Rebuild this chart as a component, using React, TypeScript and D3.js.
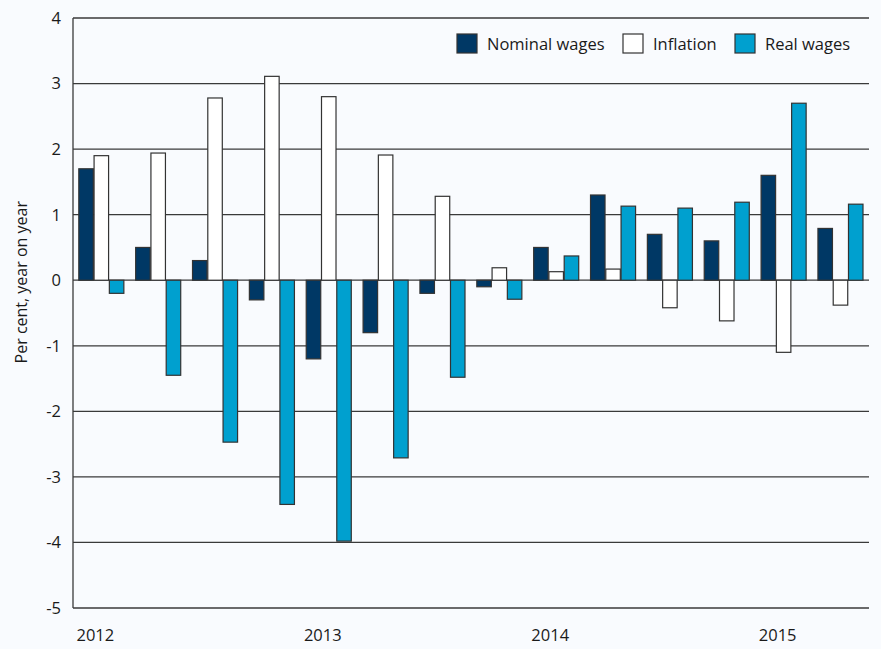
import React from 'react';
import * as d3 from 'd3';

// quarterly observations, 2012 Q1 - 2015 Q2
const quarters = [
  '2012Q1', '2012Q2', '2012Q3', '2012Q4',
  '2013Q1', '2013Q2', '2013Q3', '2013Q4',
  '2014Q1', '2014Q2', '2014Q3', '2014Q4',
  '2015Q1', '2015Q2',
];
const nominalWages = [1.7, 0.5, 0.3, -0.3, -1.2, -0.8, -0.2, -0.1, 0.5, 1.3, 0.7, 0.6, 1.6, 0.79];
const inflation = [1.9, 1.94, 2.78, 3.11, 2.8, 1.91, 1.28, 0.19, 0.13, 0.17, -0.42, -0.62, -1.1, -0.38];
const realWages = [-0.2, -1.45, -2.47, -3.42, -3.98, -2.71, -1.48, -0.29, 0.37, 1.13, 1.1, 1.19, 2.7, 1.16];

const seriesNames = ['Nominal wages', 'Inflation', 'Real wages'];
const seriesColors = ['#003865', '#ffffff', '#00a0cf'];
const yTicks = [4, 3, 2, 1, 0, -1, -2, -3, -4, -5];
const yearLabels = [
  { year: '2012', quarter: '2012Q1' },
  { year: '2013', quarter: '2013Q1' },
  { year: '2014', quarter: '2014Q1' },
  { year: '2015', quarter: '2015Q1' },
];

const W = 881;
const H = 649;
const margin = { top: 18, right: 12, bottom: 41, left: 73 };
const FONT = '"Open Sans", "Noto Sans", sans-serif';
const INK = '#1a1a1a';

const App: React.FC = () => {
  const x0 = d3
    .scaleBand<string>()
    .domain(quarters)
    .range([margin.left, W - margin.right]);

  const x1 = d3
    .scaleBand<string>()
    .domain(seriesNames)
    .range([5.8, x0.bandwidth() - 6])
    .paddingInner(0.05);

  const y = d3
    .scaleLinear()
    .domain([-5, 4])
    .range([H - margin.bottom, margin.top]);

  const series = [nominalWages, inflation, realWages];

  return (
    <svg
      width={W}
      height={H}
      style={{ position: 'absolute', left: 0, top: 0, fontFamily: FONT }}
    >
      <rect x={0} y={0} width={W} height={H} fill="#f9fbfe" />

      {/* gridlines */}
      {yTicks.map(t => (
        <line
          key={t}
          x1={margin.left}
          x2={W - margin.right}
          y1={y(t)}
          y2={y(t)}
          stroke="#3a3a3a"
          strokeWidth={1.3}
        />
      ))}

      {/* bars */}
      {quarters.map((q, i) => (
        <g key={q} transform={`translate(${x0(q)},0)`}>
          {series.map((vals, s) => {
            const v = vals[i];
            return (
              <rect
                key={s}
                x={x1(seriesNames[s])}
                y={y(Math.max(0, v))}
                width={x1.bandwidth()}
                height={Math.abs(y(v) - y(0))}
                fill={seriesColors[s]}
                stroke="#333"
                strokeWidth={1.2}
              />
            );
          })}
        </g>
      ))}

      {/* y axis line */}
      <line
        x1={margin.left}
        x2={margin.left}
        y1={y(4)}
        y2={y(-5)}
        stroke="#3a3a3a"
        strokeWidth={1.3}
      />

      {/* y tick labels */}
      {yTicks.map(t => (
        <text
          key={t}
          x={61}
          y={y(t)}
          dy="0.36em"
          textAnchor="end"
          fontSize={16.5}
          fill={INK}
        >
          {t}
        </text>
      ))}

      {/* year labels */}
      {yearLabels.map(d => (
        <text
          key={d.year}
          x={(x0(d.quarter) as number) + 3.5}
          y={641}
          fontSize={16.5}
          fill={INK}
        >
          {d.year}
        </text>
      ))}

      {/* y axis title */}
      <text
        transform={`translate(27, ${y(0) + 2}) rotate(-90)`}
        textAnchor="middle"
        fontSize={16}
        fill={INK}
      >
        Per cent, year on year
      </text>

      {/* legend */}
      <g transform="translate(457, 34)">
        {[0, 166, 278].map((dx, s) => (
          <g key={s} transform={`translate(${dx},0)`}>
            <rect
              x={0}
              y={0}
              width={20}
              height={19}
              fill={seriesColors[s]}
              stroke="#333"
              strokeWidth={1.2}
            />
            <text x={30} y={10} dy="0.36em" fontSize={16.5} fill={INK}>
              {seriesNames[s]}
            </text>
          </g>
        ))}
      </g>
    </svg>
  );
};

export default App;
